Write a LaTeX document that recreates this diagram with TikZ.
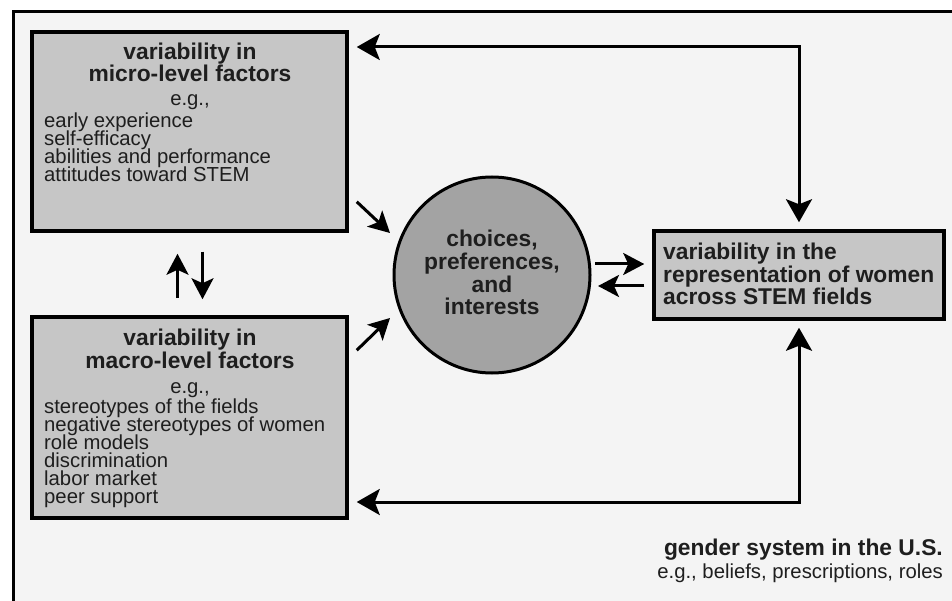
\documentclass[tikz,border=0pt]{standalone}
\usepackage{fontspec}
\setmainfont{Liberation Sans}
\usetikzlibrary{arrows.meta,calc}
\definecolor{bgc}{HTML}{F4F4F4}
\definecolor{boxgray}{HTML}{C6C6C6}
\definecolor{circgray}{HTML}{A3A3A3}
\definecolor{ink}{HTML}{1E1E1E}
\newcommand\btfont{\fontsize{22.8}{23}\selectfont\bfseries}
\newcommand\rgfont{\fontsize{20.3}{18}\selectfont}
\begin{document}
\begin{tikzpicture}[x=1pt,y=-1pt,
  bx/.style={draw=black, line width=3.5pt, fill=boxgray, inner sep=0pt},
  conn/.style={line width=3pt, draw=black},
  tipb/.tip={Stealth[length=23pt,width=26pt,inset=5pt]},
  tips/.tip={Stealth[length=21pt,width=22pt,inset=5pt]},
  tb/.style={font=\btfont, text=ink, inner sep=0pt, anchor=base},
  tr/.style={font=\rgfont, text=ink, inner sep=0pt, anchor=base},
  trl/.style={tr, anchor=base west}
]
\useasboundingbox (0,0) rectangle (952,601);
\begin{scope}
  \clip (0,0) rectangle (952,601);
  \draw[line width=3pt, fill=bgc] (13,12) rectangle (975,625);
\end{scope}

% boxes
\node[bx, minimum width=315pt, minimum height=199pt] (micro) at (189.5,131.5) {};
\node[bx, minimum width=315pt, minimum height=201pt] (macro) at (189.5,417.5) {};
\node[bx, minimum width=290pt, minimum height=88pt] (rep) at (799,275) {};
\node[circle, draw=black, line width=3pt, fill=circgray, minimum size=196pt, inner sep=0pt] (circ) at (492,275) {};

% micro text
\node[tb] (mt1) at (190,60) {variability in};
\node[tb] (mt2) at (190,82) {micro-level factors};
\node[tr] (meg) at (190,106) {e.g.,};
\foreach \t [count=\i] in {early experience, self-efficacy, abilities and performance, attitudes toward STEM}
  \node[trl] (mi\i) at (44,{128+(\i-1)*18}) {\t};

% macro text
\node[tb] (at1) at (190,345) {variability in};
\node[tb] (at2) at (190,368) {macro-level factors};
\node[tr] (aeg) at (190,393) {e.g.,};
\foreach \t [count=\i] in {stereotypes of the fields, negative stereotypes of women, role models, discrimination, labor market, peer support}
  \node[trl] (ai\i) at (44,{413+(\i-1)*18}) {\t};

% circle text
\foreach \t/\yy [count=\i] in {{choices,}/247, {preferences,}/270, and/293, interests/315}
  \node[tb] (ci\i) at (492,\yy) {\t};

% right box text
\node[tb, anchor=base west] (r1) at (663,260) {variability in the};
\node[tb, anchor=base west] (r2) at (663,283) {representation of women};
\node[tb, anchor=base west] (r3) at (663,305) {across STEM fields};

% gender system
\node[tb, anchor=base east] (g1) at (943,555) {gender system in the U.S.};
\node[tr, anchor=base east] (g2) at (943,578) {e.g., beliefs, prescriptions, roles};

% connectors
\coordinate (tl) at (799,47);
\coordinate (bl) at (799,502);
\draw[conn, {tipb}-{tipb}, shorten <=8pt, shorten >=7pt] (tl -| micro.east) -- (tl) -- (rep.north);
\draw[conn, {tipb}-{tipb}, shorten <=7pt, shorten >=8pt] (rep.south) -- (bl) -- (bl -| macro.east);

\draw[conn, -{tips}] ($(micro.south east)+(8,-31)$) -- ($(circ.center)+(-102,-42)$);
\draw[conn, -{tips}] ($(macro.north east)+(8,35)$) -- ($(circ.center)+(-102,43)$);

\draw[conn, -{tips}] ($(circ.center)+(103,-11)$) -- ($(rep.west)+(-8,-11)$);
\draw[conn, -{tips}] ($(rep.west)+(-8,11)$) -- ($(circ.center)+(106,11)$);

\draw[conn, -{tips}] ($(macro.north)+(-12,-17)$) -- ($(micro.south)+(-12,21)$);
\draw[conn, -{tips}] ($(micro.south)+(13,19)$) -- ($(macro.north)+(13,-16)$);
\end{tikzpicture}
\end{document}
